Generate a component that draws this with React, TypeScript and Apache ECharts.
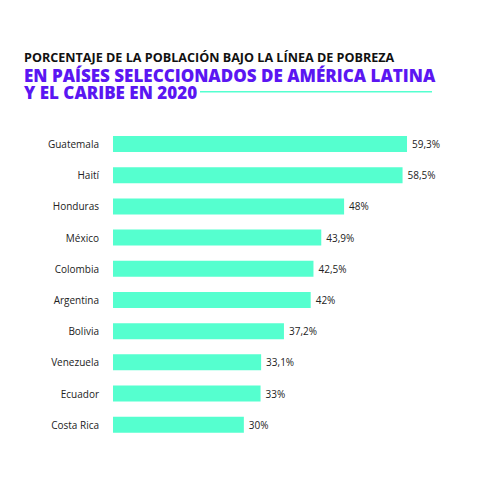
import React, { useEffect, useRef } from 'react'
import * as echarts from 'echarts'

const countries = [
  'Guatemala',
  'Haití',
  'Honduras',
  'México',
  'Colombia',
  'Argentina',
  'Bolivia',
  'Venezuela',
  'Ecuador',
  'Costa Rica'
]

const poverty = [59.3, 58.5, 48, 43.9, 42.5, 42, 37.2, 33.1, 33, 30]

const titleLines = [
  'PORCENTAJE DE LA POBLACIÓN BAJO LA LÍNEA DE POBREZA',
  'EN PAÍSES SELECCIONADOS DE AMÉRICA LATINA',
  'Y EL CARIBE EN 2020'
]

const BAR = '#55ffcf'
const PURPLE = '#5b16f2'

const App: React.FC = () => {
  const containerRef = useRef<HTMLDivElement>(null)

  useEffect(() => {
    document.body.style.margin = '0'
    if (!containerRef.current) return
    const chart = echarts.init(containerRef.current, undefined, { renderer: 'svg' })

    const option: echarts.EChartsOption = {
      animation: false,
      backgroundColor: '#ffffff',
      textStyle: { fontFamily: 'Open Sans' },
      graphic: [
        {
          type: 'text',
          x: 24,
          y: 57.3,
          style: {
            text: titleLines[0],
            fill: '#111111',
            font: 'bold 12.6px "Open Sans"',
            lineHeight: 12,
            verticalAlign: 'middle'
          }
        },
        {
          type: 'text',
          x: 24,
          y: 75,
          style: {
            text: titleLines[1],
            fill: PURPLE,
            font: '800 17px "Open Sans"',
            lineHeight: 17,
            verticalAlign: 'middle'
          }
        },
        {
          type: 'text',
          x: 24,
          y: 92.6,
          style: {
            text: titleLines[2],
            fill: PURPLE,
            font: '800 17px "Open Sans"',
            lineHeight: 17,
            verticalAlign: 'middle'
          }
        },
        {
          type: 'line',
          shape: { x1: 200, y1: 91.7, x2: 432, y2: 91.7 },
          style: { stroke: BAR, lineWidth: 1.5 }
        }
      ],
      grid: { left: 113, right: 13.4, top: 128.4, bottom: 38.7, containLabel: false },
      xAxis: {
        type: 'value',
        min: 6.5,
        max: 70,
        show: false
      },
      yAxis: {
        type: 'category',
        data: countries,
        inverse: true,
        axisLine: { show: false },
        axisTick: { show: false },
        splitLine: { show: false },
        axisLabel: {
          color: '#222222',
          fontSize: 10,
          fontFamily: 'Open Sans',
          margin: 14
        }
      },
      series: [
        {
          type: 'bar',
          data: poverty,
          barWidth: 16,
          itemStyle: { color: BAR },
          label: {
            show: true,
            position: 'right',
            distance: 5,
            color: '#222222',
            fontSize: 10,
            fontFamily: 'Open Sans',
            formatter: (p: any) => String(p.value).replace('.', ',') + '%'
          }
        }
      ]
    }

    chart.setOption(option)
    return () => chart.dispose()
  }, [])

  return <div ref={containerRef} style={{ width: 480, height: 479 }} />
}

export default App
